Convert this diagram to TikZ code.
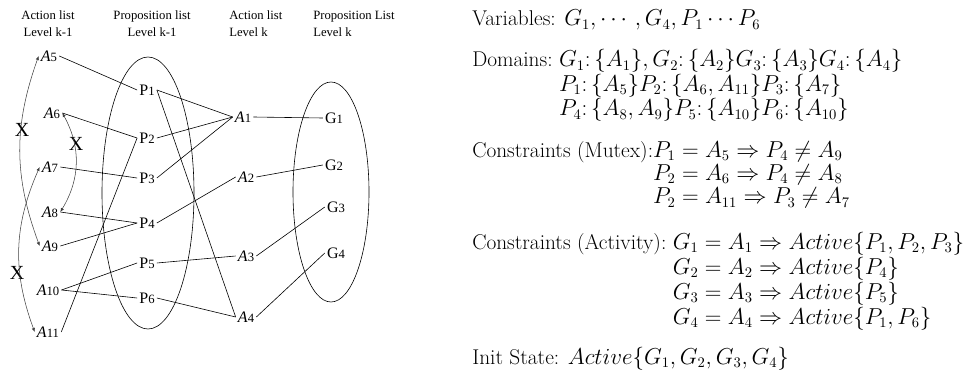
\documentclass[tikz,border=0pt]{standalone}
\usepackage{amsmath}
\usepackage{fontspec}
\newfontfamily\timesfont{Liberation Serif}
\usetikzlibrary{arrows.meta}

\newcommand{\prop}[2]{#1{\fontsize{9.5}{11}\selectfont #2}}
\newcommand{\act}[1]{\textit{A}{\fontsize{9.5}{11}\selectfont #1}}

\begin{document}
\begin{tikzpicture}
	[x=0.75pt,y=-0.75pt,every node/.style={font=\timesfont\fontsize{12}{14}\selectfont, inner sep=1.5pt}]
	\tikzstyle{head} = [font=\timesfont\fontsize{9.5}{12.75}\selectfont, align=center];
	\tikzstyle{edges} = [line width=0.45pt];
	\tikzstyle{mutex} = [line width=0.4pt, black!75, {Latex[length=3pt,width=2.5pt]}-{Latex[length=3pt,width=2.5pt]}];
	\tikzstyle{xmark} = [font=\timesfont\fontsize{15}{15}\selectfont];
	\tikzstyle{info} = [font=\fontsize{16}{17.5}\selectfont, anchor=base west, inner sep=0pt];
	
	\useasboundingbox (0,0) rectangle (964,378);
	
	\node[head] (h1) at (48,24) {Action list\\Level k-1};
	\node[head] (h2) at (152,24) {Proposition list\\Level k-1};
	\node[head, align=left, anchor=west] (h3) at (227,24) {Action list\\Level k};
	\node[head, align=left, anchor=west] (h4) at (311,24) {Proposition List\\Level k};
	
	\draw[edges] (148,193) ellipse [x radius=46, y radius=136];
	\draw[edges] (331,192) ellipse [x radius=38, y radius=110];
	
	\node (a5) at (49,56) {\act{5}};
	\node (a6) at (52,113) {\act{6}};
	\node (a7) at (50,167) {\act{7}};
	\node (a8) at (50,212) {\act{8}};
	\node (a9) at (50,246) {\act{9}};
	\node (a10) at (48,290) {\act{10}};
	\node (a11) at (48,332) {\act{11}};
	
	\node (p1) at (147,90) {\prop{P}{1}};
	\node (p2) at (147,138) {\prop{P}{2}};
	\node (p3) at (147,178) {\prop{P}{3}};
	\node (p4) at (147,223) {\prop{P}{4}};
	\node (p5) at (147,263) {\prop{P}{5}};
	\node (p6) at (147,298) {\prop{P}{6}};
	
	\node (b1) at (243,117) {\act{1}};
	\node (b2) at (246,177) {\act{2}};
	\node (b3) at (246,256) {\act{3}};
	\node (b4) at (246,317) {\act{4}};
	
	\node (g1) at (334,118) {\prop{G}{1}};
	\node (g2) at (334,165) {\prop{G}{2}};
	\node (g3) at (336,207) {\prop{G}{3}};
	\node (g4) at (336,253) {\prop{G}{4}};
	
	\node[xmark] (x1) at (22,130) {X};
	\node[xmark] (x2) at (76,144) {X};
	\node[xmark] (x3) at (17,273) {X};
	
	\draw[edges] (a5.east) -- (p1.west);
	\draw[edges] (a6.east) -- (p2.west);
	\draw[edges] (a11.east) -- (p2.west);
	\draw[edges] (a7.east) -- (p3.west);
	\draw[edges] (a8.east) -- (p4.west);
	\draw[edges] (a9.east) -- (p4.west);
	\draw[edges] (a10.east) -- (p5.west);
	\draw[edges] (a10.east) -- (p6.west);
	\draw[edges] (p1.east) -- (b1.west);
	\draw[edges] (p2.east) -- (b1.west);
	\draw[edges] (p3.east) -- (b1.west);
	\draw[edges] (p1.east) -- (b4.west);
	\draw[edges] (p4.east) -- (b2.west);
	\draw[edges] (p5.east) -- (b3.west);
	\draw[edges] (p6.east) -- (b4.west);
	\draw[edges] (b1.east) -- (g1.west);
	\draw[edges] (b2.east) -- (g2.west);
	\draw[edges] (b3.east) -- (g3.west);
	\draw[edges] (b4.east) -- (g4.west);
	
	\draw[mutex] (a5.west) to[bend right=20] (a9.west);
	\draw[mutex] (a6.east) to[bend left=30] (a8.east);
	\draw[mutex] (a7.west) to[bend right=22] (a11.west);
	
	\node[info] (vars) at (472,26) {Variables: $G_1,\cdots,G_4,P_1\cdots P_6$};
	\node[info] (dom) at (472,67) {\begin{tabular}[t]{@{}l@{\ }l@{}}
		Domains: & $G_1{:}\,\{A_1\},G_2{:}\,\{A_2\}G_3{:}\,\{A_3\}G_4{:}\,\{A_4\}$\\
		& $P_1{:}\,\{A_5\}P_2{:}\,\{A_6,A_{11}\}P_3{:}\,\{A_7\}$\\
		& $P_4{:}\,\{A_8,A_9\}P_5{:}\,\{A_{10}\}P_6{:}\,\{A_{10}\}$
	\end{tabular}};
	\node[info] (mtx) at (472,157) {\begin{tabular}[t]{@{}l@{}l@{}}
		Constraints (Mutex): & $P_1=A_5\Rightarrow P_4\neq A_9$\\
		& $P_2=A_6\Rightarrow P_4\neq A_8$\\
		& $P_2=A_{11}\Rightarrow P_3\neq A_7$
	\end{tabular}};
	\node[info, font=\fontsize{16}{18.75}\selectfont] (actv) at (472,249) {\begin{tabular}[t]{@{}l@{\ }l@{}}
		Constraints (Activity): & $G_1=A_1\Rightarrow Active\{P_1,P_2,P_3\}$\\
		& $G_2=A_2\Rightarrow Active\{P_4\}$\\
		& $G_3=A_3\Rightarrow Active\{P_5\}$\\
		& $G_4=A_4\Rightarrow Active\{P_1,P_6\}$
	\end{tabular}};
	\node[info] (init) at (472,364) {Init State: $Active\{G_1,G_2,G_3,G_4\}$};
\end{tikzpicture}
\end{document}
